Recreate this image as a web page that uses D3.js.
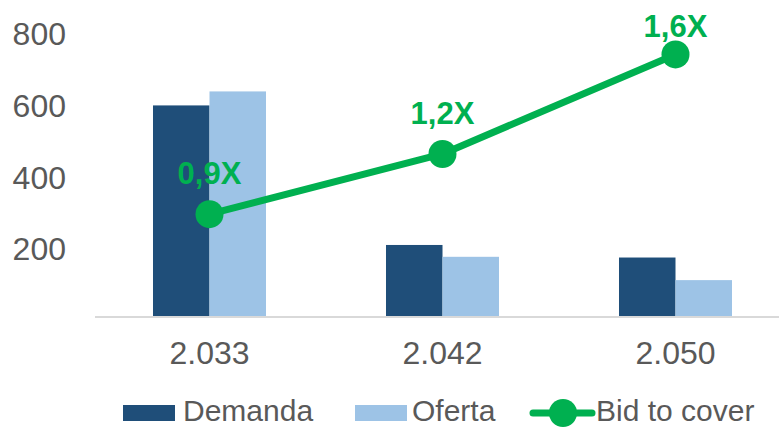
<!DOCTYPE html>
<html>
<head>
<meta charset="utf-8">
<script src="https://cdn.jsdelivr.net/npm/d3@7"></script>
<style>
  html, body { margin: 0; padding: 0; background: #fff; }
  svg { display: block; font-family: "Liberation Sans", Arial, sans-serif; }
</style>
</head>
<body>
<div id="chart"></div>
<script>
  const categories = ['2.033', '2.042', '2.050'];
  const demanda = [587, 198, 163];
  const oferta = [626, 165, 100];
  const bidToCover = [0.94, 1.20, 1.63];
  const yTicks = [200, 400, 600, 800];

  const COLORS = {
    demanda: '#1f4e79',
    oferta: '#9dc3e6',
    bid: '#00b050',
    text: '#595959',
    axis: '#d9d9d9',
  };

  const width = 779;
  const height = 427;
  const base = 316;

  const svg = d3.select('#chart').append('svg').attr('width', width).attr('height', height);

  const x = d3.scaleBand().domain(categories).range([93, 792]).paddingInner(0.515).paddingOuter(0.2575);
  const xs = d3.scaleBand().domain(['demanda', 'oferta']).range([0, x.bandwidth()]);
  const y = d3.scaleLinear().domain([0, 800]).range([base, 29]);
  const y2 = d3.scaleLinear().domain([0.5, 1.74]).range([base, 29]);

  const rows = categories.map((cat, i) => ({ cat, demanda: demanda[i], oferta: oferta[i], bid: bidToCover[i] }));

  // bars
  ['demanda', 'oferta'].forEach((key) => {
    svg.selectAll(`.bar-${key}`)
      .data(rows)
      .enter()
      .append('rect')
      .attr('class', `bar-${key}`)
      .attr('x', (row) => x(row.cat) + xs(key))
      .attr('y', (row) => y(row[key]))
      .attr('width', xs.bandwidth())
      .attr('height', (row) => y(0) - y(row[key]))
      .attr('fill', COLORS[key]);
  });

  // category axis
  svg.append('line')
    .attr('x1', 95).attr('x2', width)
    .attr('y1', base + 1).attr('y2', base + 1)
    .attr('stroke', COLORS.axis).attr('stroke-width', 2);

  const xAxis = svg.append('g')
    .attr('transform', `translate(0,${base})`)
    .call(d3.axisBottom(x).tickSize(0).tickPadding(0));
  xAxis.select('.domain').remove();
  xAxis.selectAll('text')
    .attr('y', 48).attr('dy', 0)
    .attr('fill', COLORS.text)
    .style('font-size', '32px')
    .style('font-family', '"Liberation Sans", Arial, sans-serif');

  // value axis
  const yAxis = svg.append('g')
    .attr('transform', 'translate(66,0)')
    .call(d3.axisLeft(y).tickValues(yTicks).tickSize(0).tickPadding(0));
  yAxis.select('.domain').remove();
  yAxis.selectAll('text')
    .attr('dy', '0.485em')
    .attr('fill', COLORS.text)
    .style('font-size', '32px')
    .style('font-family', '"Liberation Sans", Arial, sans-serif');

  // bid to cover line
  const line = d3.line()
    .x((row) => x(row.cat) + x.bandwidth() / 2)
    .y((row) => y2(row.bid));

  svg.append('path')
    .datum(rows)
    .attr('d', line)
    .attr('fill', 'none')
    .attr('stroke', COLORS.bid)
    .attr('stroke-width', 7)
    .attr('stroke-linejoin', 'round');

  svg.selectAll('.bid-dot')
    .data(rows)
    .enter()
    .append('circle')
    .attr('class', 'bid-dot')
    .attr('cx', (row) => x(row.cat) + x.bandwidth() / 2)
    .attr('cy', (row) => y2(row.bid))
    .attr('r', 14)
    .attr('fill', COLORS.bid);

  svg.selectAll('.bid-label')
    .data(rows)
    .enter()
    .append('text')
    .attr('class', 'bid-label')
    .attr('x', (row) => x(row.cat) + x.bandwidth() / 2)
    .attr('y', (row) => Math.max(y2(row.bid) - 30, 37))
    .attr('text-anchor', 'middle')
    .attr('fill', COLORS.bid)
    .style('font-size', '31px')
    .style('font-weight', 'bold')
    .text((row) => `${row.bid.toFixed(1).replace('.', ',')}X`);

  // legend
  const legend = svg.append('g').style('font-size', '30px').attr('fill', COLORS.text);
  const legendY = 413;

  legend.append('rect').attr('x', 123).attr('y', legendY - 8).attr('width', 52).attr('height', 16).attr('fill', COLORS.demanda);
  legend.append('text').attr('x', 183).attr('y', legendY + 7.5).text('Demanda');

  legend.append('rect').attr('x', 355).attr('y', legendY - 8).attr('width', 52).attr('height', 16).attr('fill', COLORS.oferta);
  legend.append('text').attr('x', 412).attr('y', legendY + 7.5).text('Oferta');

  legend.append('line').attr('x1', 533).attr('x2', 592).attr('y1', legendY).attr('y2', legendY)
    .attr('stroke', COLORS.bid).attr('stroke-width', 7).attr('stroke-linecap', 'round');
  legend.append('circle').attr('cx', 563).attr('cy', legendY).attr('r', 14).attr('fill', COLORS.bid);
  legend.append('text').attr('x', 596).attr('y', legendY + 7.5).text('Bid to cover');
</script>
</body>
</html>
